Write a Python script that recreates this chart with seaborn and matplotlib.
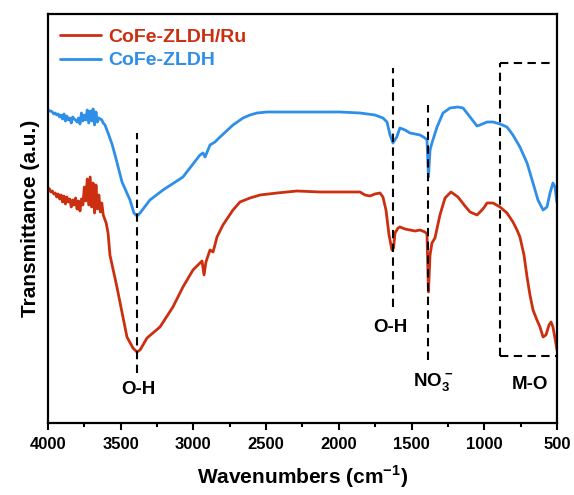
import matplotlib
matplotlib.use("Agg")
import matplotlib.pyplot as plt # type: ignore
import seaborn as sns # type: ignore
import pandas as pd # type: ignore
from matplotlib.ticker import MultipleLocator

# Spectra (wavenumber in cm-1, transmittance in a.u.)
noisy_wn = [4000, 3990, 3980, 3970, 3960, 3950, 3940, 3930, 3920, 3910, 3900, 3890, 3880,
            3870, 3860, 3850, 3840, 3830, 3820, 3810, 3800, 3790, 3780, 3770, 3760, 3750,
            3740, 3730, 3720, 3710, 3700, 3690, 3680, 3670, 3660, 3650, 3640, 3630, 3620]

blue_wn = noisy_wn + [3608, 3587, 3560, 3539, 3491, 3436, 3409, 3388, 3367, 3299, 3209, 3072,
                      2955, 2934, 2920, 2886, 2852, 2817, 2728, 2659, 2611, 2563, 2494, 2267,
                      1992, 1855, 1752, 1697, 1669, 1648, 1628, 1602, 1580, 1545, 1511, 1476,
                      1442, 1408, 1394, 1384, 1373, 1360, 1325, 1284, 1236, 1181, 1146, 1098,
                      1050, 1030, 981, 940, 892, 844, 803, 755, 706, 665, 631, 596, 569, 548,
                      528, 514, 500]
blue_t = [313, 312, 312, 311, 309, 310, 308, 309, 306, 308, 304, 309, 302,
          307, 303, 305, 300, 306, 304, 303, 301, 305, 299, 310, 302, 308,
          303, 313, 300, 312, 302, 314, 298, 311, 301, 305, 304, 303, 300] + \
         [298, 290, 279, 268, 241, 223, 210, 207, 210, 223, 233, 246,
          268, 270, 266, 278, 281, 286, 298, 305, 308, 310, 311, 311,
          311, 310, 308, 305, 301, 288, 280, 286, 295, 293, 290, 289,
          288, 285, 283, 246, 273, 280, 296, 310, 315, 316, 315, 306,
          297, 298, 301, 301, 299, 296, 288, 276, 260, 240, 223, 213, 216, 230,
          240, 236, 220]

red_wn = noisy_wn + [3600, 3587, 3574, 3526, 3457, 3416, 3388, 3367, 3319, 3230, 3141, 3072,
                     3003, 2955, 2941, 2927, 2914, 2886, 2865, 2852, 2838, 2797, 2728, 2680,
                     2611, 2542, 2425, 2288, 2130, 1992, 1855, 1820, 1786, 1752, 1717, 1697,
                     1676, 1655, 1635, 1624, 1614, 1593, 1580, 1545, 1511, 1476, 1442, 1408,
                     1394, 1384, 1373, 1360, 1339, 1305, 1270, 1229, 1181, 1133, 1098, 1050,
                     1009, 981, 940, 892, 844, 803, 775, 755, 727, 706, 686, 665, 638, 617,
                     596, 576, 555, 541, 528, 514, 500]
red_t = [235, 234, 231, 232, 229, 230, 226, 229, 224, 228, 221, 227, 219,
         226, 221, 224, 216, 223, 218, 225, 214, 222, 212, 224, 218, 236,
         222, 244, 218, 246, 216, 240, 210, 238, 214, 228, 211, 220, 208] + \
        [200, 190, 168, 136, 86, 75, 71, 73, 85, 96, 116, 136,
         153, 160, 162, 148, 161, 173, 171, 178, 186, 198, 213, 221,
         225, 228, 230, 232, 231, 231, 231, 228, 227, 229, 230, 226,
         213, 188, 173, 175, 190, 195, 196, 194, 193, 192, 193, 191,
         189, 131, 168, 180, 185, 208, 225, 231, 226, 217, 211, 208,
         214, 220, 220, 216, 210, 201, 193, 186, 168, 146, 128, 113, 103, 96,
         86, 88, 98, 101, 96, 85, 73]

series_names = ["CoFe-ZLDH/Ru", "CoFe-ZLDH"]
series_colors = ["#cc2f10", "#2f8fe8"]

# Band markers: (wavenumber, lower, upper)
band_lines = [(3388, 50, 290), (1628, 116, 355), (1384, 63, 318)]
band_labels = [("O-H", 3381, 33), ("O-H", 1648, 95), (r"$\mathbf{NO_3^-}$", 1353, 41), ("M-O", 686, 38)]
mo_box = (892, 500, 67, 360)

sns.set_style("ticks")
plt.rcParams["font.family"] = ["Liberation Sans", "DejaVu Sans"]
plt.rcParams["font.weight"] = "bold"
plt.rcParams["mathtext.fontset"] = "custom"
plt.rcParams["mathtext.bf"] = "Liberation Sans:bold"
plt.rcParams["mathtext.rm"] = "Liberation Sans:bold"
plt.rcParams["text.color"] = "black"
plt.rcParams["axes.labelcolor"] = "black"
plt.rcParams["xtick.color"] = "black"

df = pd.concat([
    pd.DataFrame({"wn": red_wn, "t": red_t, "sample": series_names[0]}),
    pd.DataFrame({"wn": blue_wn, "t": blue_t, "sample": series_names[1]}),
])

fig = plt.figure(figsize=(5.74, 4.95), dpi=100)
ax = fig.add_axes([0.0836, 0.1455, 0.8868, 0.8262])

sns.lineplot(data=df, x="wn", y="t", hue="sample", palette=series_colors,
             hue_order=series_names, sort=False, estimator=None, lw=2.0, ax=ax)

dash = (0, (4, 2.6))
for wn, lo, hi in band_lines:
    ax.plot([wn, wn], [lo, hi], color="black", lw=1.5, ls=dash)
x0, x1, y0, y1 = mo_box
ax.plot([x0, x0], [y0, y1], color="black", lw=1.5, ls=dash)
ax.plot([x0, 530], [y1, y1], color="black", lw=1.5, ls=dash)
ax.plot([x0, x1], [y0, y0], color="black", lw=1.5, ls=dash)

for txt, x, y in band_labels:
    ax.text(x, y, txt, ha="center", va="center", fontsize=13.5, fontweight="bold")

ax.set_xlim(4000, 500)
ax.set_ylim(0, 409)
ax.xaxis.set_major_locator(MultipleLocator(500))
ax.xaxis.set_minor_locator(MultipleLocator(250))
ax.set_yticks([])
ax.tick_params(axis="x", which="major", direction="out", length=5, width=1.5,
               labelsize=12, bottom=True, top=False, pad=5, colors="black")
ax.tick_params(axis="x", which="minor", direction="out", length=3, width=1.5,
               bottom=True, top=False, colors="black")
ax.tick_params(axis="y", left=False, right=False)
for lab in ax.get_xticklabels():
    lab.set_fontweight("bold")
for sp in ax.spines.values():
    sp.set_visible(True)
    sp.set_linewidth(1.6)
    sp.set_color("black")

ax.set_xlabel(r"Wavenumbers (cm$^{\mathbf{-1}}$)", fontsize=15, fontweight="bold", labelpad=8)
ax.set_ylabel("Transmittance (a.u.)", fontsize=15, fontweight="bold", labelpad=6)

leg = ax.legend(loc="upper left", bbox_to_anchor=(0.0236, 0.965), frameon=False,
                fontsize=14, handlelength=2.1, handletextpad=0.4, labelspacing=0.3,
                borderpad=0, borderaxespad=0, labelcolor="linecolor")
for t in leg.get_texts():
    t.set_fontweight("bold")

fig.savefig("out.png", dpi=100)
